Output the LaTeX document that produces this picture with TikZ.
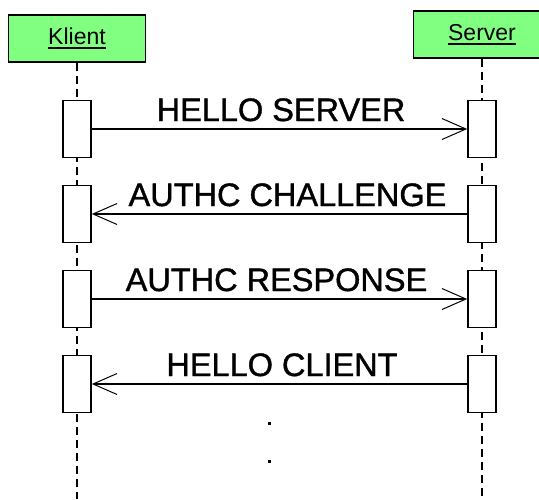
\documentclass[tikz,border=0pt]{standalone}
\usepackage{fontspec}
\setmainfont{Liberation Sans}
\newfontfamily\msgfont{Liberation Sans}[FakeBold=1.2]
\usetikzlibrary{arrows.meta,positioning}
\definecolor{headgreen}{RGB}{128,255,128}

% underlined name in the header boxes
\newcommand\headlabel[1]{\setbox0\hbox{#1}\vtop{\copy0\kern2.5pt\hrule height1.6pt width\wd0}}

\begin{document}
\begin{tikzpicture}[x=1pt,y=-1pt,
  head/.style={draw,line width=1.6pt,fill=headgreen,minimum width=137pt,minimum height=47pt,
               inner sep=0pt,font=\fontsize{23}{23}\selectfont},
  act/.style={draw,line width=1.6pt,fill=white,minimum width=28pt,minimum height=57pt,inner sep=0pt},
  lifeline/.style={line width=1.6pt,dash pattern=on 8pt off 5pt},
  msg/.style={line width=1.6pt,-{Straight Barb[length=24pt,width=21pt,line width=1pt]}},
  lbl/.style={anchor=base,yshift=8pt,inner sep=0pt,font=\msgfont\fontsize{32.5}{32.5}\selectfont},
  dotmark/.style={fill,minimum size=3pt,inner sep=0pt}]
  \useasboundingbox (0,0) rectangle (539,499);

  % object headers (server box runs off the right edge)
  \node[head] (klient) at (77,38.5) {\headlabel{Klient}};
  \node[head] (server) at (482,34.5) {\headlabel{Server}};

  % lifelines down to the bottom
  \coordinate (kend) at (77,499);
  \coordinate (send) at (482,499);
  \draw[lifeline] (klient.south) -- (kend);
  \draw[lifeline] (server.south) -- (send);

  % activation boxes
  \foreach \i in {1,...,4} {
    \node[act] (k\i) at (77,{129+85*(\i-1)}) {};
    \node[act] (s\i) at (482,{129+85*(\i-1)}) {};
  }

  % messages
  \foreach \a/\b/\dx/\txt in {k1.east/s1.west/1.5/HELLO SERVER,
                              s2.west/k2.east/8/AUTHC CHALLENGE,
                              k3.east/s3.west/-3/AUTHC RESPONSE,
                              s4.west/k4.east/2.5/HELLO CLIENT}
    \draw[msg] (\a) -- node[lbl,xshift=\dx pt] {\txt} (\b);

  % more to come
  \node[dotmark] (dot1) at (269,423) {};
  \node[dotmark] (dot2) at (269,461) {};
\end{tikzpicture}
\end{document}
